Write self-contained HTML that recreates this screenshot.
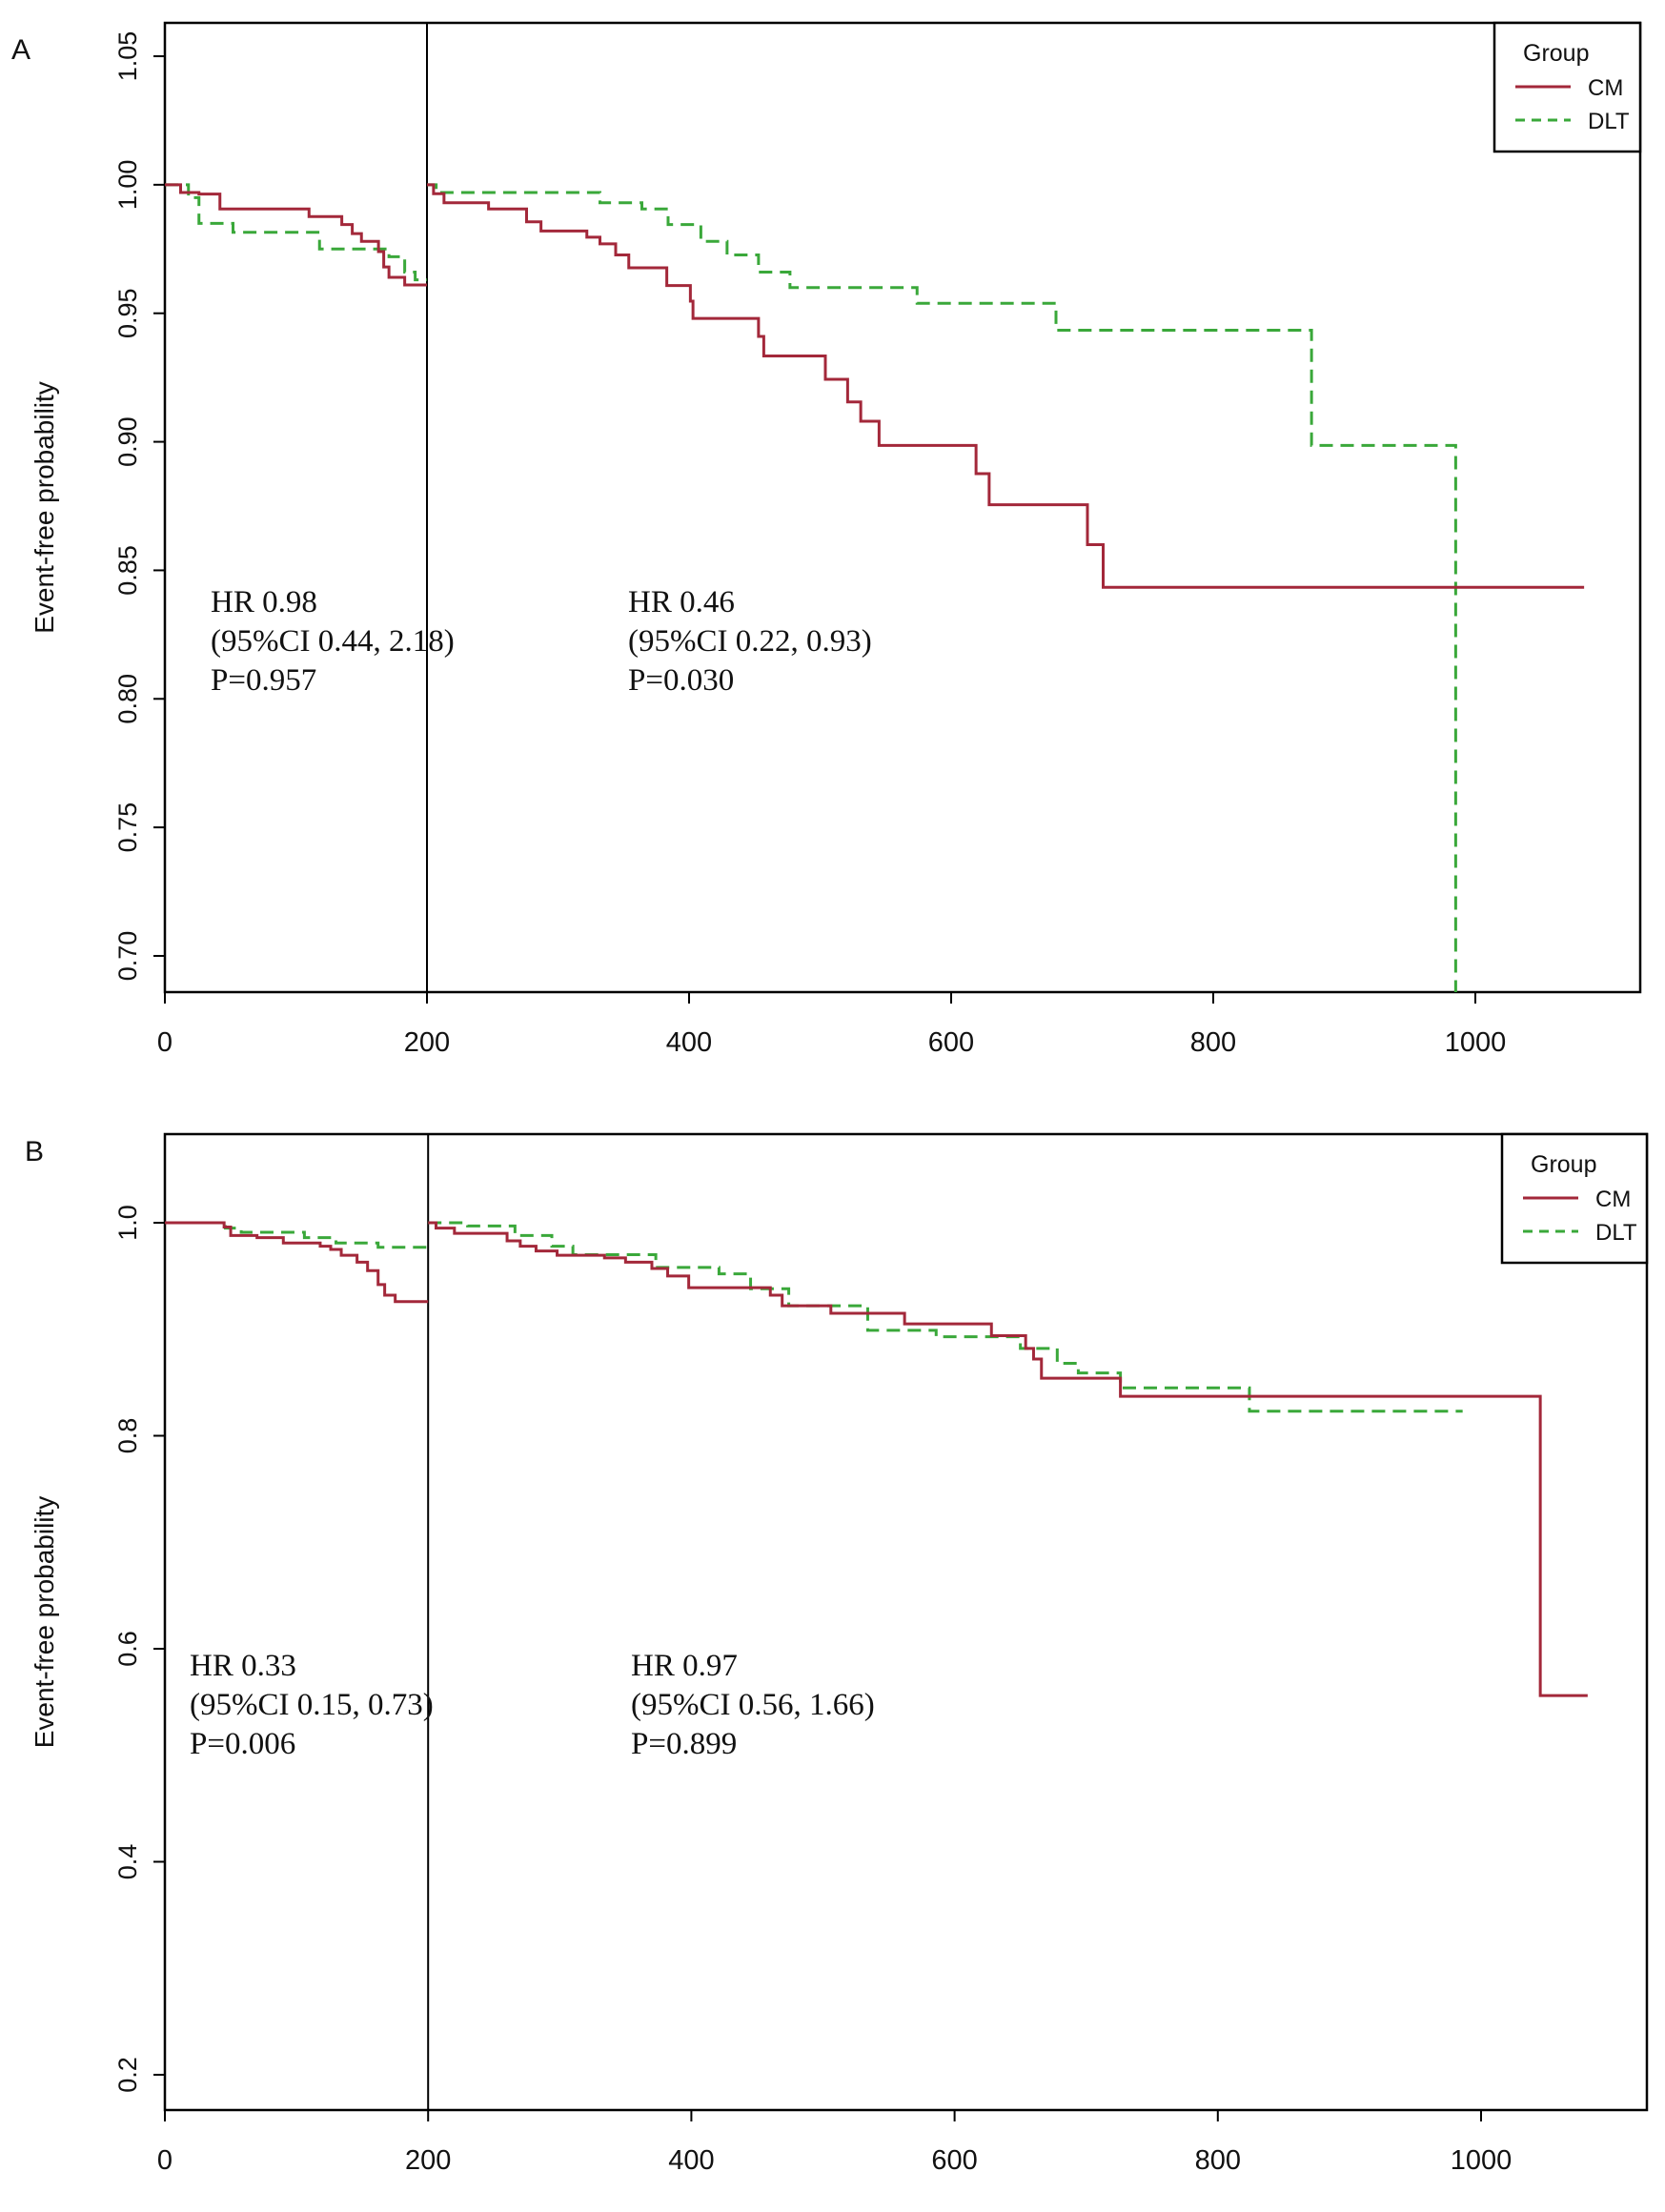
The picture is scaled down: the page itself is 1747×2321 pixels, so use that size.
<!DOCTYPE html>
<html><head><meta charset="utf-8"><style>
html,body{margin:0;padding:0;background:#fff;overflow:hidden;width:1747px;height:2321px}
svg{display:block}
</style></head><body>
<svg id="chart" width="1747" height="2321" viewBox="0 0 1747 2321" xmlns="http://www.w3.org/2000/svg" font-family="Liberation Sans, sans-serif"></svg>
<script>
// ---- Panel A data ----
const xTicks = [0, 200, 400, 600, 800, 1000];
const yTicksA = [0.70, 0.75, 0.80, 0.85, 0.90, 0.95, 1.00, 1.05];
const yTicksB = [0.2, 0.4, 0.6, 0.8, 1.0];
const landmark = 200;
const aCm1T = [0, 12, 26, 42, 110, 135, 143, 150, 163, 167, 171, 183];
const aCm1S = [1, 0.997, 0.9964, 0.9906, 0.9876, 0.9845, 0.981, 0.978, 0.974, 0.968, 0.964, 0.961];
const aDlt1T = [0, 18, 26, 52, 118, 171, 183, 191];
const aDlt1S = [1, 0.995, 0.985, 0.9815, 0.975, 0.972, 0.966, 0.963];
const aCm2T = [200, 205, 213, 247, 276, 287, 322, 332, 344, 354, 383, 401, 403, 453, 457, 504, 521, 531, 545, 619, 629, 704, 716];
const aCm2S = [1, 0.9965, 0.993, 0.9906, 0.9856, 0.982, 0.9796, 0.977, 0.9727, 0.9677, 0.9608, 0.9547, 0.948, 0.941, 0.9334, 0.9243, 0.9155, 0.908, 0.8986, 0.8876, 0.8755, 0.860, 0.8434];
const aCm2End = 1083;
const aDlt2T = [200, 207, 332, 364, 384, 409, 429, 453, 477, 574, 680, 875, 985];
const aDlt2S = [1, 0.997, 0.993, 0.9906, 0.9845, 0.978, 0.9727, 0.966, 0.960, 0.9539, 0.9434, 0.8986, 0.0];
const aDlt2End = 985;
// ---- Panel B data ----
const bCm1T = [0, 45, 50, 70, 90, 118, 126, 134, 146, 154, 162, 167, 175];
const bCm1S = [1, 0.996, 0.988, 0.986, 0.981, 0.978, 0.975, 0.9695, 0.963, 0.955, 0.942, 0.932, 0.926];
const bDlt1T = [0, 46, 58, 106, 130, 162];
const bDlt1S = [1, 0.995, 0.991, 0.986, 0.981, 0.977];
const bCm2T = [200, 206, 220, 260, 270, 282, 298, 334, 350, 370, 382, 398, 460, 469, 506, 562, 628, 654, 660, 666, 726, 1045];
const bCm2S = [1, 0.995, 0.990, 0.983, 0.978, 0.9735, 0.9695, 0.967, 0.963, 0.957, 0.950, 0.939, 0.932, 0.922, 0.915, 0.905, 0.894, 0.882, 0.872, 0.854, 0.837, 0.556];
const bCm2End = 1081;
const bDlt2T = [200, 230, 266, 294, 310, 373, 421, 445, 474, 534, 586, 650, 678, 694, 726, 824];
const bDlt2S = [1, 0.997, 0.988, 0.978, 0.970, 0.958, 0.952, 0.938, 0.922, 0.899, 0.893, 0.882, 0.868, 0.859, 0.845, 0.823];
const bDlt2End = 986;
const annotA = [["HR 0.98", " (95%CI 0.44, 2.18)", "P=0.957"], ["HR 0.46", " (95%CI 0.22, 0.93)", "P=0.030"]];
const annotB = [["HR 0.33", " (95%CI 0.15, 0.73)", "P=0.006"], ["HR 0.97", " (95%CI 0.56, 1.66)", "P=0.899"]];

const NS = "http://www.w3.org/2000/svg";
const svg = document.getElementById("chart");
function mk(tag, attrs, parent) {
  const e = document.createElementNS(NS, tag);
  for (const k in attrs) e.setAttribute(k, attrs[k]);
  (parent || svg).appendChild(e);
  return e;
}
const RED = "#a3283a", GREEN = "#3aa83a";

function panel(cfg) {
  const g = mk("g", {});
  
  
  const X = v => cfg.x0 + (v - 0) * (cfg.x1000 - cfg.x0) / 1000;
  const Y = v => cfg.yHiPx + (cfg.yHi - v) * (cfg.yLoPx - cfg.yHiPx) / (cfg.yHi - cfg.yLo);
  const clipId = cfg.name + "-clip";
  const defs = mk("defs", {}, g);
  const cp = mk("clipPath", {id: clipId}, defs);
  mk("rect", {x: cfg.L, y: cfg.T, width: cfg.R - cfg.L, height: cfg.B - cfg.T}, cp);

  const frame = mk("rect", {x: cfg.L, y: cfg.T, width: cfg.R - cfg.L, height: cfg.B - cfg.T, fill: "none", stroke: "#000", "stroke-width": 2.5}, g);
  
  

  xTicks.forEach(t => {
    const tk = mk("line", {x1: X(t), x2: X(t), y1: cfg.B, y2: cfg.B + 12, stroke: "#000", "stroke-width": 2}, g);
    
    
    const lb = mk("text", {x: X(t), y: cfg.B + 62, "text-anchor": "middle", "font-size": 29, fill: "#111"}, g);
    lb.textContent = t;
    
    
  });
  cfg.yTicks.forEach(t => {
    const tk = mk("line", {x1: cfg.L - 12, x2: cfg.L, y1: Y(t), y2: Y(t), stroke: "#000", "stroke-width": 2}, g);
    
    
    const lb = mk("text", {x: 0, y: 0, "text-anchor": "middle", "font-size": 27, fill: "#111",
      transform: `translate(${cfg.L - 30},${Y(t)}) rotate(-90)`}, g);
    lb.textContent = t.toFixed(cfg.dec);
    
    
  });
  const yt = mk("text", {x: 0, y: 0, "text-anchor": "middle", "font-size": 28, fill: "#111",
    transform: `translate(56,${(cfg.T + cfg.B) / 2}) rotate(-90)`}, g);
  yt.textContent = "Event-free probability";
  
  

  const pl = mk("text", {x: cfg.labX, y: cfg.labY, "font-size": 30, fill: "#111"}, g);
  pl.textContent = cfg.letter;
  
  

  const vl = mk("line", {x1: X(landmark), x2: X(landmark), y1: cfg.T, y2: cfg.B, stroke: "#000", "stroke-width": 2}, g);
  
  

  const cg = mk("g", {"clip-path": `url(#${clipId})`}, g);
  function step(T, S, end, color, dash, name) {
    let d = `M${X(T[0])},${Y(S[0])}`;
    for (let i = 1; i < T.length; i++) d += ` H${X(T[i])} V${Y(S[i])}`;
    d += ` H${X(end)}`;
    const p = mk("path", {d: d, fill: "none", stroke: color, "stroke-width": 3, "stroke-dasharray": dash || "none"}, cg);
    
    
  }
  step(cfg.dlt1T, cfg.dlt1S, landmark, GREEN, "14,8", 'dlt-curve-early');
  step(cfg.cm1T, cfg.cm1S, landmark, RED, null, 'cm-curve-early');
  step(cfg.dlt2T, cfg.dlt2S, cfg.dlt2End, GREEN, "14,8", 'dlt-curve-late');
  step(cfg.cm2T, cfg.cm2S, cfg.cm2End, RED, null, 'cm-curve-late');

  cfg.annot.forEach((lines, k) => {
    lines.forEach((s, i) => {
      const t = mk("text", {x: cfg.annX[k], y: cfg.annY + i * 41, "font-size": 33, fill: "#111",
        "font-family": "Liberation Serif, serif", "xml:space": "preserve"}, g);
      t.textContent = s;
      
      
    });
  });

  const lg = mk("g", {}, g);
  
  
  const lx = cfg.legX, ly = cfg.legY;
  mk("rect", {x: lx, y: ly, width: cfg.R - lx, height: 135, fill: "#fff", stroke: "#000", "stroke-width": 2.5}, lg);
  const gt = mk("text", {x: lx + 30, y: ly + 40, "font-size": 25, fill: "#111"}, lg);
  gt.textContent = "Group";
  
  
  [["CM", RED, null], ["DLT", GREEN, "10,7"]].forEach((e, i) => {
    const yy = ly + 67 + i * 35;
    const ln = mk("line", {x1: lx + 22, x2: lx + 80, y1: yy, y2: yy, stroke: e[1], "stroke-width": 3, "stroke-dasharray": e[2] || "none"}, lg);
    
    
    const tx = mk("text", {x: lx + 98, y: yy + 9, "font-size": 24, fill: "#111"}, lg);
    tx.textContent = e[0];
    
    
  });
}

panel({name: "panel-a", letter: "A", labX: 12, labY: 62, L: 173, R: 1721, T: 24, B: 1041,
  x0: 173, x1000: 1548, yHi: 1.05, yLo: 0.70, yHiPx: 59, yLoPx: 1003, yTicks: yTicksA, dec: 2,
  cm1T: aCm1T, cm1S: aCm1S, dlt1T: aDlt1T, dlt1S: aDlt1S,
  cm2T: aCm2T, cm2S: aCm2S, cm2End: aCm2End, dlt2T: aDlt2T, dlt2S: aDlt2S, dlt2End: aDlt2End,
  annot: annotA, annX: [221, 659], annY: 642, legX: 1568, legY: 24});
panel({name: "panel-b", letter: "B", labX: 26, labY: 1218, L: 173, R: 1728, T: 1190, B: 2214,
  x0: 173, x1000: 1554, yHi: 1.0, yLo: 0.2, yHiPx: 1283, yLoPx: 2177, yTicks: yTicksB, dec: 1,
  cm1T: bCm1T, cm1S: bCm1S, dlt1T: bDlt1T, dlt1S: bDlt1S,
  cm2T: bCm2T, cm2S: bCm2S, cm2End: bCm2End, dlt2T: bDlt2T, dlt2S: bDlt2S, dlt2End: bDlt2End,
  annot: annotB, annX: [199, 662], annY: 1758, legX: 1576, legY: 1190});
</script>
</body></html>
